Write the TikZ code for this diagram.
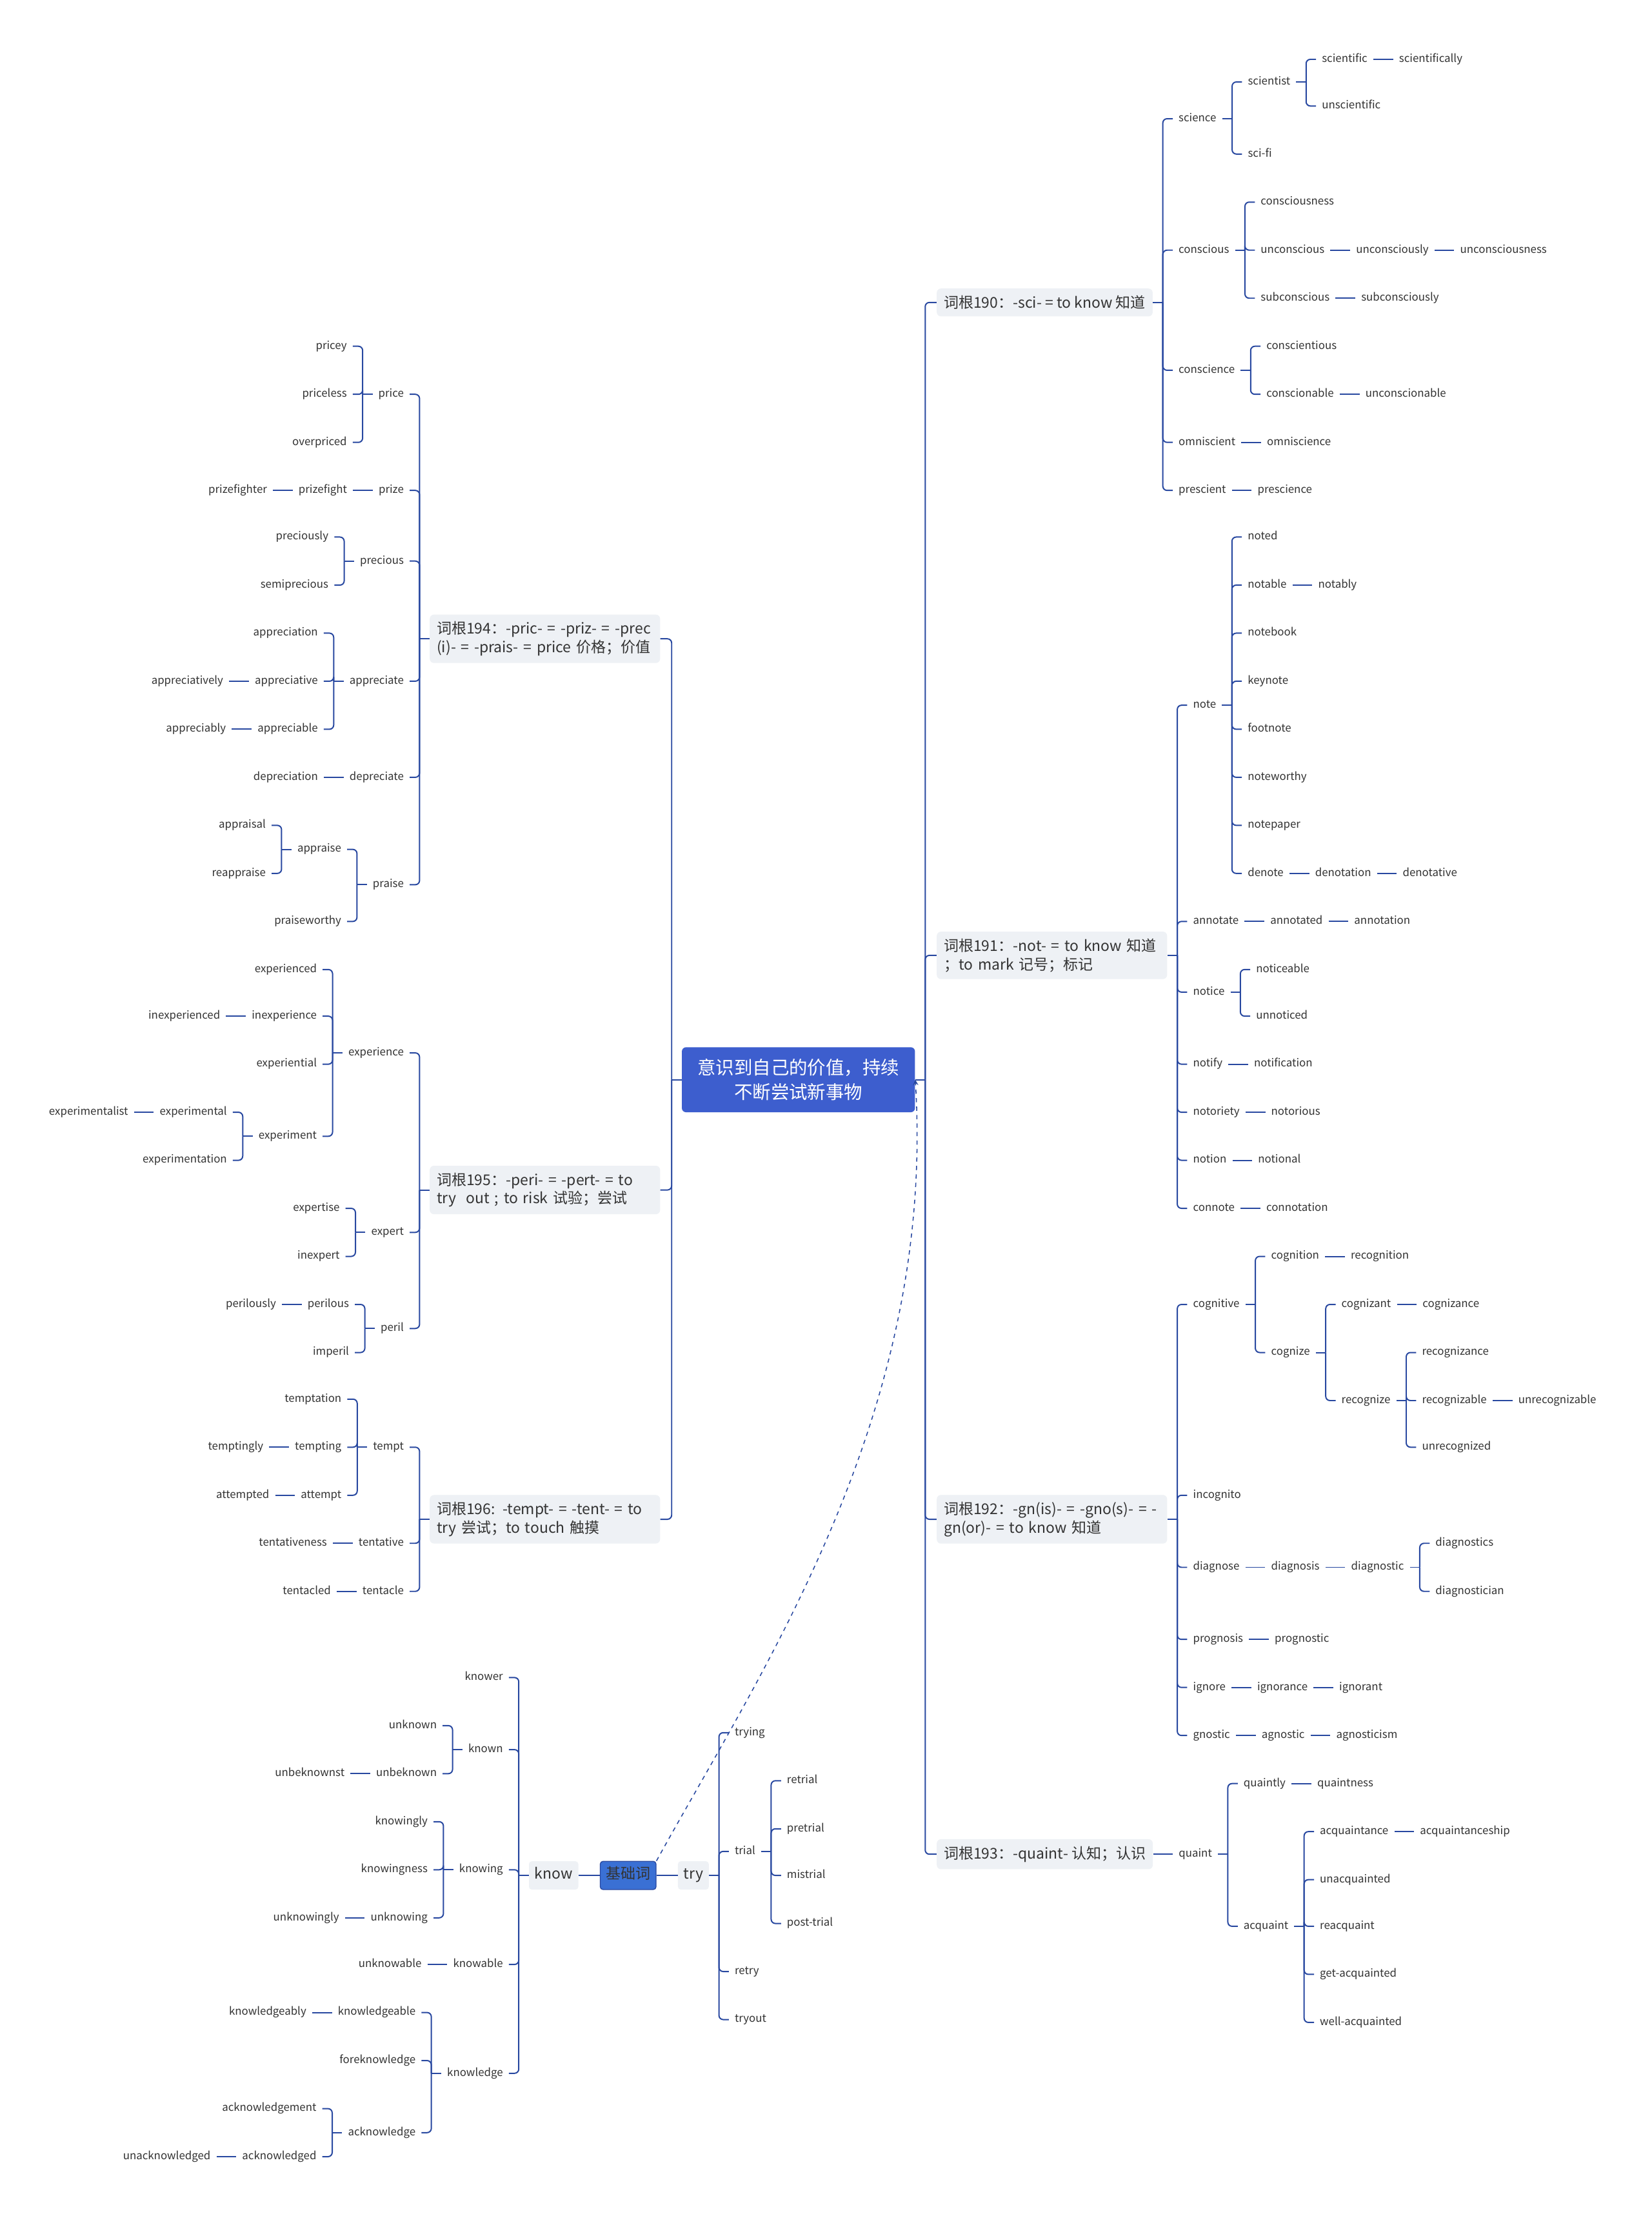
\documentclass[tikz,border=0pt]{standalone}
\usepackage{fontspec}
\setmainfont{Noto Sans CJK SC}
\usepackage{xcolor}
\usetikzlibrary{positioning}
\definecolor{linec}{RGB}{40,72,160}
\definecolor{rootc}{RGB}{61,94,206}
\definecolor{basec}{RGB}{58,112,212}
\definecolor{catfill}{RGB}{238,241,245}
\definecolor{txtc}{RGB}{51,51,51}

\begin{document}
\begin{tikzpicture}[>=stealth, node distance=14pt,
  leaf/.style={inner xsep=4pt, inner ysep=1pt, text height=6pt, text depth=2pt, font=\fontsize{7.7}{9}\selectfont, text=txtc},
  catbox/.style={fill=catfill, rounded corners=3pt, inner xsep=5pt, inner ysep=5pt, align=left, font=\fontsize{10.5}{13}\selectfont, text=txtc},
  catwide/.style={catbox, text width=153pt},
  basebox/.style={fill=catfill, rounded corners=2pt, inner xsep=4pt, inner ysep=5pt, text height=7.5pt, text depth=2.5pt, font=\fontsize{10.5}{12}\selectfont, text=txtc},
  keybox/.style={basebox, fill=basec, draw=linec, line width=0.6pt},
  rootbox/.style={fill=rootc, rounded corners=3pt, text=white, align=center, minimum width=165pt, minimum height=46pt, font=\fontsize{13}{17}\selectfont},
  link/.style={draw=linec, line width=0.9pt, rounded corners=3pt}]
  \fill[white] (0,0) rectangle (1169pt,-1568pt);
  \useasboundingbox (0,0) rectangle (1169pt,-1568pt);

  \node[rootbox] (root) at (565pt,-764pt) {意识到自己的价值，持续\\不断尝试新事物};

  % sci
  \node[catbox, right=15pt of root, yshift=550pt] (b190) {词根190：-sci- = to know 知道};
  \node[leaf, right=of b190, yshift=130pt] (science) {science};
  \node[leaf, right=of b190, yshift=37pt] (conscious) {conscious};
  \node[leaf, right=of b190, yshift=-48pt] (conscience) {conscience};
  \node[leaf, right=of b190, yshift=-99pt] (omniscient) {omniscient};
  \node[leaf, right=of b190, yshift=-133pt] (prescient) {prescient};
  \node[leaf, right=of science, yshift=26pt] (scientist) {scientist};
  \node[leaf, right=of science, yshift=-25pt] (scifi) {sci-fi};
  \node[leaf, right=of scientist, yshift=16pt] (scientific) {scientific};
  \node[leaf, right=of scientist, yshift=-17pt] (unscientific) {unscientific};
  \node[leaf, right=of scientific] (scientifically) {scientifically};
  \node[leaf, right=of conscious, yshift=34pt] (consciousness) {consciousness};
  \node[leaf, right=of conscious] (unconscious) {unconscious};
  \node[leaf, right=of conscious, yshift=-34pt] (subconscious) {subconscious};
  \node[leaf, right=of unconscious] (unconsciously) {unconsciously};
  \node[leaf, right=of unconsciously] (unconsciousness) {unconsciousness};
  \node[leaf, right=of subconscious] (subconsciously) {subconsciously};
  \node[leaf, right=of conscience, yshift=17pt] (conscientious) {conscientious};
  \node[leaf, right=of conscience, yshift=-17pt] (conscionable) {conscionable};
  \node[leaf, right=of conscionable] (unconscionable) {unconscionable};
  \node[leaf, right=of omniscient] (omniscience) {omniscience};
  \node[leaf, right=of prescient] (prescience) {prescience};

  % not
  \node[catwide, right=15pt of root, yshift=88pt] (b191) {词根191：-not- = to know 知道\\；to mark 记号；标记};
  \node[leaf, right=of b191, yshift=177pt] (note) {note};
  \node[leaf, right=of b191, yshift=24pt] (annotate) {annotate};
  \node[leaf, right=of b191, yshift=-26pt] (notice) {notice};
  \node[leaf, right=of b191, yshift=-77pt] (notify) {notify};
  \node[leaf, right=of b191, yshift=-111pt] (notoriety) {notoriety};
  \node[leaf, right=of b191, yshift=-145pt] (notion) {notion};
  \node[leaf, right=of b191, yshift=-179pt] (connote) {connote};
  \node[leaf, right=of note, yshift=119pt] (noted) {noted};
  \node[leaf, right=of note, yshift=85pt] (notable) {notable};
  \node[leaf, right=of note, yshift=51pt] (notebook) {notebook};
  \node[leaf, right=of note, yshift=17pt] (keynote) {keynote};
  \node[leaf, right=of note, yshift=-17pt] (footnote) {footnote};
  \node[leaf, right=of note, yshift=-51pt] (noteworthy) {noteworthy};
  \node[leaf, right=of note, yshift=-85pt] (notepaper) {notepaper};
  \node[leaf, right=of note, yshift=-119pt] (denote) {denote};
  \node[leaf, right=of notable] (notably) {notably};
  \node[leaf, right=of denote] (denotation) {denotation};
  \node[leaf, right=of denotation] (denotative) {denotative};
  \node[leaf, right=of annotate] (annotated) {annotated};
  \node[leaf, right=of annotated] (annotation) {annotation};
  \node[leaf, right=of notice, yshift=16pt] (noticeable) {noticeable};
  \node[leaf, right=of notice, yshift=-17pt] (unnoticed) {unnoticed};
  \node[leaf, right=of notify] (notification) {notification};
  \node[leaf, right=of notoriety] (notorious) {notorious};
  \node[leaf, right=of notion] (notional) {notional};
  \node[leaf, right=of connote] (connotation) {connotation};

  % gn
  \node[catwide, right=15pt of root, yshift=-311pt] (b192) {词根192：-gn(is)- = -gno(s)- = -\\gn(or)- = to know 知道};
  \node[leaf, right=of b192, yshift=152pt] (cognitive) {cognitive};
  \node[leaf, right=of b192, yshift=17pt] (incognito) {incognito};
  \node[leaf, right=of b192, yshift=-34pt] (diagnose) {diagnose};
  \node[leaf, right=of b192, yshift=-85pt] (prognosis) {prognosis};
  \node[leaf, right=of b192, yshift=-119pt] (ignore) {ignore};
  \node[leaf, right=of b192, yshift=-153pt] (gnostic) {gnostic};
  \node[leaf, right=of cognitive, yshift=34pt] (cognition) {cognition};
  \node[leaf, right=of cognitive, yshift=-34pt] (cognize) {cognize};
  \node[leaf, right=of cognition] (recognition) {recognition};
  \node[leaf, right=of cognize, yshift=34pt] (cognizant) {cognizant};
  \node[leaf, right=of cognize, yshift=-34pt] (recognize) {recognize};
  \node[leaf, right=of cognizant] (cognizance) {cognizance};
  \node[leaf, right=of recognize, yshift=34pt] (recognizance) {recognizance};
  \node[leaf, right=of recognize] (recognizable) {recognizable};
  \node[leaf, right=of recognize, yshift=-33pt] (unrecognized) {unrecognized};
  \node[leaf, right=of recognizable] (unrecognizable) {unrecognizable};
  \node[leaf, right=of diagnose] (diagnosis) {diagnosis};
  \node[leaf, right=of diagnosis] (diagnostic) {diagnostic};
  \node[leaf, right=of diagnostic, yshift=17pt] (diagnostics) {diagnostics};
  \node[leaf, right=of diagnostic, yshift=-17pt] (diagnostician) {diagnostician};
  \node[leaf, right=of prognosis] (prognostic) {prognostic};
  \node[leaf, right=of ignore] (ignorance) {ignorance};
  \node[leaf, right=of ignorance] (ignorant) {ignorant};
  \node[leaf, right=of gnostic] (agnostic) {agnostic};
  \node[leaf, right=of agnostic] (agnosticism) {agnosticism};

  % quaint
  \node[catbox, right=15pt of root, yshift=-548pt] (b193) {词根193：-quaint- 认知；认识};
  \node[leaf, right=of b193] (quaint) {quaint};
  \node[leaf, right=of quaint, yshift=50pt] (quaintly) {quaintly};
  \node[leaf, right=of quaint, yshift=-51pt] (acquaint) {acquaint};
  \node[leaf, right=of quaintly] (quaintness) {quaintness};
  \node[leaf, right=of acquaint, yshift=67pt] (acquaintance) {acquaintance};
  \node[leaf, right=of acquaint, yshift=33pt] (unacquainted) {unacquainted};
  \node[leaf, right=of acquaint] (reacquaint) {reacquaint};
  \node[leaf, right=of acquaint, yshift=-34pt] (getacq) {get-acquainted};
  \node[leaf, right=of acquaint, yshift=-68pt] (wellacq) {well-acquainted};
  \node[leaf, right=of acquaintance] (acquaintanceship) {acquaintanceship};

  % pric
  \node[catwide, left=15pt of root, yshift=312pt] (b194) {词根194：-pric- = -priz- = -prec\\(i)- = -prais- = price 价格；价值};
  \node[leaf, left=of b194, yshift=173pt] (price) {price};
  \node[leaf, left=of b194, yshift=105pt] (prize) {prize};
  \node[leaf, left=of b194, yshift=55pt] (precious) {precious};
  \node[leaf, left=of b194, yshift=-30pt] (appreciate) {appreciate};
  \node[leaf, left=of b194, yshift=-98pt] (depreciate) {depreciate};
  \node[leaf, left=of b194, yshift=-174pt] (praise) {praise};
  \node[leaf, left=of price, yshift=34pt] (pricey) {pricey};
  \node[leaf, left=of price] (priceless) {priceless};
  \node[leaf, left=of price, yshift=-34pt] (overpriced) {overpriced};
  \node[leaf, left=of prize] (prizefight) {prizefight};
  \node[leaf, left=of prizefight] (prizefighter) {prizefighter};
  \node[leaf, left=of precious, yshift=17pt] (preciously) {preciously};
  \node[leaf, left=of precious, yshift=-17pt] (semiprecious) {semiprecious};
  \node[leaf, left=of appreciate, yshift=34pt] (appreciation) {appreciation};
  \node[leaf, left=of appreciate] (appreciative) {appreciative};
  \node[leaf, left=of appreciate, yshift=-34pt] (appreciable) {appreciable};
  \node[leaf, left=of appreciative] (appreciatively) {appreciatively};
  \node[leaf, left=of appreciable] (appreciably) {appreciably};
  \node[leaf, left=of depreciate] (depreciation) {depreciation};
  \node[leaf, left=of praise, yshift=25pt] (appraise) {appraise};
  \node[leaf, left=of praise, yshift=-26pt] (praiseworthy) {praiseworthy};
  \node[leaf, left=of appraise, yshift=17pt] (appraisal) {appraisal};
  \node[leaf, left=of appraise, yshift=-17pt] (reappraise) {reappraise};

  % peri
  \node[catwide, left=15pt of root, yshift=-78pt] (b195) {词根195：-peri- = -pert- = to\\try\ \ out ; to risk 试验；尝试};
  \node[leaf, left=of b195, yshift=97pt] (experience) {experience};
  \node[leaf, left=of b195, yshift=-30pt] (expert) {expert};
  \node[leaf, left=of b195, yshift=-98pt] (peril) {peril};
  \node[leaf, left=of experience, yshift=59pt] (experienced) {experienced};
  \node[leaf, left=of experience, yshift=26pt] (inexperience) {inexperience};
  \node[leaf, left=of experience, yshift=-8pt] (experiential) {experiential};
  \node[leaf, left=of experience, yshift=-59pt] (experiment) {experiment};
  \node[leaf, left=of inexperience] (inexperienced) {inexperienced};
  \node[leaf, left=of experiment, yshift=17pt] (experimental) {experimental};
  \node[leaf, left=of experiment, yshift=-17pt] (experimentation) {experimentation};
  \node[leaf, left=of experimental] (experimentalist) {experimentalist};
  \node[leaf, left=of expert, yshift=17pt] (expertise) {expertise};
  \node[leaf, left=of expert, yshift=-17pt] (inexpert) {inexpert};
  \node[leaf, left=of peril, yshift=17pt] (perilous) {perilous};
  \node[leaf, left=of peril, yshift=-17pt] (imperil) {imperil};
  \node[leaf, left=of perilous] (perilously) {perilously};

  % tempt
  \node[catwide, left=15pt of root, yshift=-311pt] (b196) {词根196: -tempt- = -tent- = to\\try 尝试；to touch 触摸};
  \node[leaf, left=of b196, yshift=51pt] (tempt) {tempt};
  \node[leaf, left=of b196, yshift=-17pt] (tentative) {tentative};
  \node[leaf, left=of b196, yshift=-51pt] (tentacle) {tentacle};
  \node[leaf, left=of tempt, yshift=34pt] (temptation) {temptation};
  \node[leaf, left=of tempt] (tempting) {tempting};
  \node[leaf, left=of tempt, yshift=-34pt] (attempt) {attempt};
  \node[leaf, left=of tempting] (temptingly) {temptingly};
  \node[leaf, left=of attempt] (attempted) {attempted};
  \node[leaf, left=of tentative] (tentativeness) {tentativeness};
  \node[leaf, left=of tentacle] (tentacled) {tentacled};

  % base words
  \node[keybox] (jcc) at (444.5pt,-1327pt) {基础词};
  \node[basebox, left=15pt of jcc] (know) {know};
  \node[basebox, right=15pt of jcc] (try) {try};
  \node[leaf, left=of know, yshift=140pt] (knower) {knower};
  \node[leaf, left=of know, yshift=89pt] (known) {known};
  \node[leaf, left=of know, yshift=4pt] (knowing) {knowing};
  \node[leaf, left=of know, yshift=-63pt] (knowable) {knowable};
  \node[leaf, left=of know, yshift=-140pt] (knowledge) {knowledge};
  \node[leaf, left=of known, yshift=17pt] (unknown) {unknown};
  \node[leaf, left=of known, yshift=-17pt] (unbeknown) {unbeknown};
  \node[leaf, left=of unbeknown] (unbeknownst) {unbeknownst};
  \node[leaf, left=of knowing, yshift=34pt] (knowingly) {knowingly};
  \node[leaf, left=of knowing] (knowingness) {knowingness};
  \node[leaf, left=of knowing, yshift=-34pt] (unknowing) {unknowing};
  \node[leaf, left=of unknowing] (unknowingly) {unknowingly};
  \node[leaf, left=of knowable] (unknowable) {unknowable};
  \node[leaf, left=of knowledge, yshift=43pt] (knowledgeable) {knowledgeable};
  \node[leaf, left=of knowledge, yshift=9pt] (foreknowledge) {foreknowledge};
  \node[leaf, left=of knowledge, yshift=-42pt] (acknowledge) {acknowledge};
  \node[leaf, left=of knowledgeable] (knowledgeably) {knowledgeably};
  \node[leaf, left=of acknowledge, yshift=17pt] (acknowledgement) {acknowledgement};
  \node[leaf, left=of acknowledge, yshift=-17pt] (acknowledged) {acknowledged};
  \node[leaf, left=of acknowledged] (unacknowledged) {unacknowledged};
  \node[leaf, right=of try, yshift=101pt] (trying) {trying};
  \node[leaf, right=of try, yshift=17pt] (trial) {trial};
  \node[leaf, right=of try, yshift=-68pt] (retry) {retry};
  \node[leaf, right=of try, yshift=-102pt] (tryout) {tryout};
  \node[leaf, right=of trial, yshift=50pt] (retrial) {retrial};
  \node[leaf, right=of trial, yshift=16pt] (pretrial) {pretrial};
  \node[leaf, right=of trial, yshift=-17pt] (mistrial) {mistrial};
  \node[leaf, right=of trial, yshift=-51pt] (posttrial) {post-trial};

  % trunk
  \draw[link] (root.east) -- ++(7pt,0);
  \foreach \c in {b190,b191,b192,b193} \draw[link] ([xshift=7pt]root.east) |- (\c.west);
  \draw[link] (root.west) -- ++(-7pt,0);
  \foreach \c in {b194,b195,b196} \draw[link] ([xshift=-7pt]root.west) |- (\c.east);

  % right brackets
  \foreach \p/\cs in {b190/{science,conscious,conscience,omniscient,prescient},
      science/{scientist,scifi}, scientist/{scientific,unscientific},
      conscious/{consciousness,unconscious,subconscious}, conscience/{conscientious,conscionable},
      b191/{note,annotate,notice,notify,notoriety,notion,connote},
      note/{noted,notable,notebook,keynote,footnote,noteworthy,notepaper,denote},
      notice/{noticeable,unnoticed},
      b192/{cognitive,incognito,diagnose,prognosis,ignore,gnostic},
      cognitive/{cognition,cognize}, cognize/{cognizant,recognize},
      recognize/{recognizance,recognizable,unrecognized}, diagnostic/{diagnostics,diagnostician},
      quaint/{quaintly,acquaint},
      acquaint/{acquaintance,unacquainted,reacquaint,getacq,wellacq},
      try/{trying,trial,retry,tryout}, trial/{retrial,pretrial,mistrial,posttrial}} {
    \draw[link] (\p.east) -- ++(7pt,0);
    \foreach \c in \cs \draw[link] ([xshift=7pt]\p.east) |- (\c.west);
  }

  % left brackets
  \foreach \p/\cs in {b194/{price,prize,precious,appreciate,depreciate,praise},
      price/{pricey,priceless,overpriced}, precious/{preciously,semiprecious},
      appreciate/{appreciation,appreciative,appreciable}, praise/{appraise,praiseworthy},
      appraise/{appraisal,reappraise},
      b195/{experience,expert,peril},
      experience/{experienced,inexperience,experiential,experiment},
      experiment/{experimental,experimentation}, expert/{expertise,inexpert}, peril/{perilous,imperil},
      b196/{tempt,tentative,tentacle}, tempt/{temptation,tempting,attempt},
      know/{knower,known,knowing,knowable,knowledge}, known/{unknown,unbeknown},
      knowing/{knowingly,knowingness,unknowing},
      knowledge/{knowledgeable,foreknowledge,acknowledge}, acknowledge/{acknowledgement,acknowledged}} {
    \draw[link] (\p.west) -- ++(-7pt,0);
    \foreach \c in \cs \draw[link] ([xshift=-7pt]\p.west) |- (\c.east);
  }

  % chains
  \foreach \a/\b in {scientific/scientifically, unconscious/unconsciously, unconsciously/unconsciousness,
      subconscious/subconsciously, conscionable/unconscionable, omniscient/omniscience, prescient/prescience,
      notable/notably, denote/denotation, denotation/denotative, annotate/annotated, annotated/annotation,
      notify/notification, notoriety/notorious, notion/notional, connote/connotation,
      cognition/recognition, cognizant/cognizance, recognizable/unrecognizable,
      diagnose/diagnosis, diagnosis/diagnostic, prognosis/prognostic, ignore/ignorance, ignorance/ignorant,
      gnostic/agnostic, agnostic/agnosticism, b193/quaint, quaintly/quaintness, acquaintance/acquaintanceship,
      prizefighter/prizefight, prizefight/prize, appreciatively/appreciative, appreciably/appreciable,
      depreciation/depreciate, inexperienced/inexperience, experimentalist/experimental, perilously/perilous,
      temptingly/tempting, attempted/attempt, tentativeness/tentative, tentacled/tentacle,
      unbeknownst/unbeknown, unknowingly/unknowing, unknowable/knowable, knowledgeably/knowledgeable,
      unacknowledged/acknowledged, know/jcc, jcc/try}
    \draw[link] (\a) -- (\b);

  \draw[link, dashed, line width=0.7pt, ->] (jcc.north east) .. controls (540pt,-1180pt) and (662pt,-1000pt) .. (root.east);
\end{tikzpicture}
\end{document}
